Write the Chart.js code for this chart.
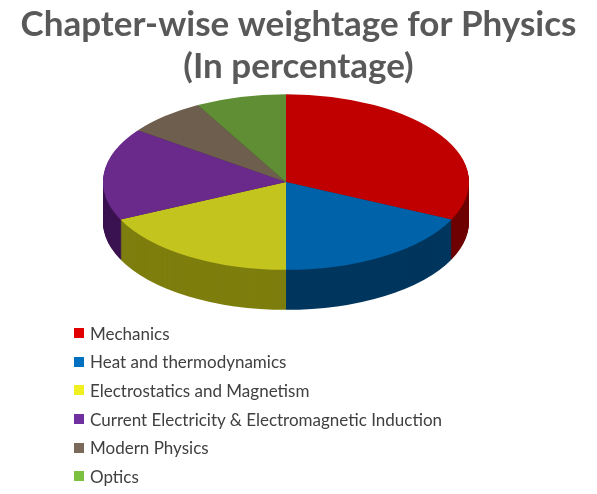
<!DOCTYPE html>
<html><head><meta charset="utf-8">
<script src="https://cdn.jsdelivr.net/npm/chart.js@4"></script>
<style>
body{margin:0;background:#fff;}
#wrap{position:relative;width:597px;height:494px;}
#legend{position:absolute;left:74px;top:319px;font-family:Lato,"Open Sans",sans-serif;font-size:17px;color:#404040;}
#legend div{height:28.6px;display:flex;align-items:center;}
#legend span.b{display:inline-block;width:10px;height:10px;margin-right:6px;}
</style></head><body>
<div id="wrap"><canvas id="c" width="597" height="494"></canvas><div id="legend"></div></div>
<script>
const categories=["Mechanics","Heat and thermodynamics","Electrostatics and Magnetism","Current Electricity & Electromagnetic Induction","Modern Physics","Optics"];
const values=[32,18,18,17,7,8];
const topColors=["#C00000","#0062A8","#C4C41E","#6A2A8C","#6E5E4E","#5F8E35"];
const sideColors=["#6E0000","#00365E","#7E7E0E","#3A1250","#3C3228","#34521B"];
const legendColors=["#E00000","#0070C0","#F0F020","#7030A0","#7A6A5A","#7CC040"];

const CX=286,CY=182,K=0.48,DEPTH=40;
const pie3d={id:'pie3d',
 beforeDatasetsDraw(chart){
  const ctx=chart.ctx,arcs=chart.getDatasetMeta(0).data;
  const ax=arcs[0].x,ay=arcs[0].y;
  for(let d=DEPTH;d>=1;d--){
   ctx.save();
   ctx.translate(CX,CY+d);ctx.scale(1,K);ctx.translate(-ax,-ay);
   arcs.forEach((a,i)=>{const o=a.options.backgroundColor;a.options.backgroundColor=sideColors[i];a.draw(ctx);a.options.backgroundColor=o;});
   ctx.restore();
  }
  ctx.save();
  ctx.translate(CX,CY);ctx.scale(1,K);ctx.translate(-ax,-ay);
 },
 afterDatasetsDraw(chart){chart.ctx.restore();}
};
new Chart(document.getElementById('c'),{
 type:'pie',
 data:{labels:categories,datasets:[{data:values,backgroundColor:topColors,borderWidth:0,radius:183}]},
 options:{responsive:false,animation:false,
  plugins:{legend:{display:false},tooltip:{enabled:false},
   title:{display:true,text:["Chapter-wise weightage for Physics","(In percentage)"],color:"#595959",
    font:{family:"Lato",size:35,weight:"bold"},padding:{top:4,bottom:0},lineHeight:1.1}}},
 plugins:[pie3d]
});
const lg=document.getElementById('legend');
categories.forEach((c,i)=>{const d=document.createElement('div');d.innerHTML='<span class="b" style="background:'+legendColors[i]+'"></span>'+c.replace('&','&amp;');lg.appendChild(d);});
</script></body></html>
